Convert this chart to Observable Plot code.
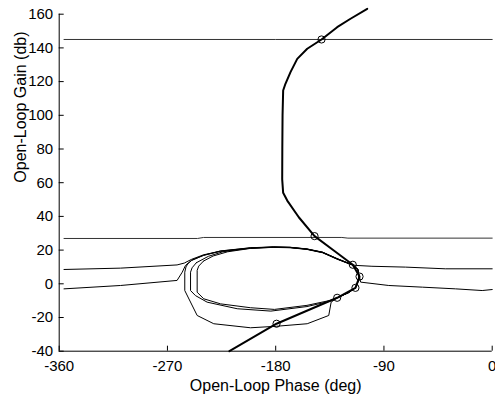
<!DOCTYPE html>
<html><head><meta charset="utf-8">
<script src="https://cdn.jsdelivr.net/npm/d3@7"></script>
<script src="https://cdn.jsdelivr.net/npm/@observablehq/plot@0.6"></script>
<style>html,body{margin:0;padding:0;background:#fff;overflow:hidden}#chart svg{display:block}</style>
</head><body><div id="chart"></div>
<script>
// Axis ticks
const phaseTicks = [-360, -270, -180, -90, 0];
const gainTicks = [-40, -20, 0, 20, 40, 60, 80, 100, 120, 140, 160];

// Horizontal bound lines
const highBoundPhase = [-356, -180, 0];
const highBoundGain = [145, 145, 145];
const midBoundPhase = [-356, -245, -240, -125, -120, 0];
const midBoundGain = [26.9, 26.9, 27.5, 27.5, 27.1, 27.1];

// Upper contour (starts ~8.5 dB)
const upperPhase = [-356, -309, -262, -256, -250, -240, -226, -201, -182, -168, -154, -141, -129, -121, -116, -113, -100, -72, -39, 0];
const upperGain  = [8.5, 9.3, 11.2, 12.3, 14.5, 17.2, 19.4, 21.3, 21.8, 21.6, 20.6, 18.6, 14.8, 12.6, 11.2, 10.9, 10.4, 9.9, 8.9, 8.9];

// Lower contour (starts ~-3 dB)
const lowerPhase = [-356, -309, -262, -257.7, -255, -250, -240, -226, -201, -182, -168, -154, -141, -129, -121, -116, -112, -110.3, -109.4, -86, -58, -30.5, -8.3, 0];
const lowerGain  = [-3, -1, 2, 6.9, 10.9, 13.8, 17, 19.2, 21.1, 21.6, 21.4, 20.4, 18.4, 14.6, 12.4, 11, 8.5, 4, 1, -1, -2, -3, -4, -3.4];

// Closed template loops
const loopAPhase = [-253, -254.6, -255.6, -255.6, -245.3, -231.5, -200.9, -179.3, -153.8, -135.9, -133.9, -128.9, -119.5, -113.7, -110.6, -111.5, -116, -121, -129, -141, -154, -168, -182, -201, -226, -240, -250, -253];
const loopAGain  = [12, 10, 6.9, -4, -18.8, -23.7, -26.1, -25.2, -23.7, -18.8, -10.9, -8.3, -5.3, -2.4, 3, 8.5, 11.3, 12.7, 15, 18.8, 20.7, 21.7, 21.9, 21.4, 19.5, 16.8, 14, 12];
const loopBPhase = [-246, -249.5, -250.8, -250.8, -246.7, -237, -212, -184, -154, -134.4, -128.9, -119.5, -113.7, -110.6, -111.5, -116, -121, -129, -141, -154, -168, -182, -201, -224, -236, -246];
const loopBGain  = [12.5, 9.5, 6.9, -4, -7, -10.9, -14.8, -16.2, -13.5, -10.3, -8.3, -5.3, -2.4, 3, 8.5, 11.3, 12.6, 14.9, 18.7, 20.6, 21.6, 21.8, 21.2, 19, 16.3, 12.5];
const loopCPhase = [-240, -244, -245.3, -245.3, -239.8, -225.9, -201, -181, -154, -134.4, -128.9, -119.5, -113.7, -110.6, -111.5, -116, -121, -129, -141, -154, -168, -182, -201, -220, -232, -240];
const loopCGain  = [13.5, 10.5, 8, -5, -8.9, -11.9, -14.2, -15.2, -12.8, -9.8, -8.3, -5.3, -2.4, 3, 8.5, 11.3, 12.5, 14.8, 18.6, 20.5, 21.5, 21.7, 21, 19, 16.5, 13.5];

// Open-loop response (thick)
const responsePhase = [-103.9, -117.8, -128.9, -141.9, -153.8, -162.1, -167.7, -171.9, -173.8, -174.3, -174.5, -174.6, -173.8, -170.4, -160.8, -147.7, -131.7, -115.9, -110.3, -113.7, -128.9, -179.3, -218.5];
const responseGain  = [163.2, 157.3, 152.3, 145, 139.5, 133.5, 125.6, 118.7, 114.7, 100, 80, 62, 54, 49.4, 39.5, 28.3, 19.8, 11.3, 4.3, -2.4, -8.3, -23.7, -40];

// Marked frequencies
const markPhase = [-141.9, -147.7, -115.9, -110.3, -113.7, -128.9, -179.3];
const markGain  = [145, 28.3, 11.3, 4.3, -2.4, -8.3, -23.7];

const rows = (ph, g, name) => ph.map((p, i) => ({phase: p, gain: g[i], curve: name}));
const thin = [
  ...rows(highBoundPhase, highBoundGain, "high"),
  ...rows(midBoundPhase, midBoundGain, "mid")
];
const contours = [
  ...rows(upperPhase, upperGain, "upper"),
  ...rows(lowerPhase, lowerGain, "lower"),
  ...rows(loopAPhase, loopAGain, "A"),
  ...rows(loopBPhase, loopBGain, "B"),
  ...rows(loopCPhase, loopCGain, "C")
];
const response = rows(responsePhase, responseGain, "resp");
const marks = rows(markPhase, markGain, "mark");

const fmt = d => String(d);

const chart = Plot.plot({
  width: 495,
  height: 398,
  marginLeft: 58.7,
  marginRight: 3.3,
  marginTop: 13.7,
  marginBottom: 47.3,
  style: {fontFamily: "'Liberation Sans', Arial, sans-serif", fontSize: "15px", background: "#fff", color: "#000"},
  x: {domain: [-360, 0], label: null},
  y: {domain: [-40, 160], label: null},
  marks: [
    Plot.axisX({ticks: phaseTicks, tickSize: -5, tickPadding: 14.5, tickFormat: fmt, label: null}),
    Plot.axisY({ticks: gainTicks, tickSize: -5, tickPadding: 11, tickFormat: fmt, label: null}),
    Plot.ruleX([-360], {stroke: "#000"}),
    Plot.ruleY([-40], {stroke: "#000"}),
    Plot.line(thin, {x: "phase", y: "gain", z: "curve", stroke: "#333", strokeWidth: 1}),
    Plot.line(contours, {x: "phase", y: "gain", z: "curve", stroke: "#000", strokeWidth: 1}),
    Plot.line(response, {x: "phase", y: "gain", stroke: "#000", strokeWidth: 2}),
    Plot.dot(marks, {x: "phase", y: "gain", r: 3.6, stroke: "#000", fill: "none", strokeWidth: 1}),
    Plot.text(["Open-Loop Phase (deg)"], {frameAnchor: "bottom", dy: 35, fontSize: 16, lineAnchor: "middle", text: d => d}),
    Plot.text(["Open-Loop Gain (db)"], {frameAnchor: "left", dx: -38.7, rotate: -90, fontSize: 16, lineAnchor: "middle", text: d => d})
  ]
});
document.getElementById("chart").append(chart);
</script>
</body></html>
